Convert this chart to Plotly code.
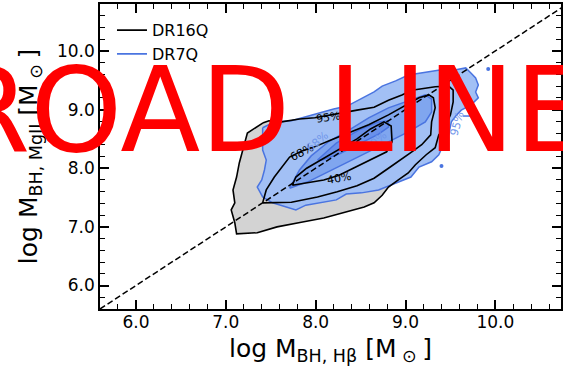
import plotly.graph_objects as go

# ---- contour outlines (log M_BH, Hbeta ; log M_BH, MgII) ----
dr16_95_x = [7.41, 7.48, 7.62, 7.82, 7.99, 8.15, 8.28, 8.46, 8.65, 8.81, 8.96, 9.07, 9.33, 9.48, 9.53, 9.53,
             9.50, 9.44, 9.37, 9.33, 9.23, 9.11, 9.03, 8.92, 8.81, 8.74, 8.65, 8.54, 8.31, 8.09, 7.84, 7.57,
             7.35, 7.12, 7.10, 7.06, 7.10, 7.08, 7.12, 7.15, 7.18, 7.24, 7.41]
dr16_95_y = [8.77, 8.81, 8.79, 8.84, 8.86, 8.91, 8.94, 8.99, 9.04, 9.16, 9.25, 9.33, 9.39, 9.40, 9.33, 9.13,
             8.91, 8.70, 8.57, 8.35, 8.23, 8.06, 7.92, 7.80, 7.68, 7.54, 7.41, 7.34, 7.24, 7.15, 7.08, 7.00,
             6.90, 6.88, 7.07, 7.29, 7.41, 7.63, 7.85, 8.09, 8.26, 8.60, 8.77]

dr16_68_x = [7.41, 7.45, 7.54, 7.62, 7.71, 7.84, 7.98, 8.17, 8.39, 8.59, 8.81, 9.00, 9.15, 9.26, 9.31, 9.33,
             9.29, 9.28, 9.18, 9.07, 8.92, 8.81, 8.65, 8.46, 8.24, 8.02, 7.73, 7.54, 7.41]
dr16_68_y = [7.41, 7.63, 7.85, 8.02, 8.19, 8.29, 8.36, 8.48, 8.62, 8.74, 8.91, 9.08, 9.20, 9.25, 9.20, 9.03,
             8.79, 8.57, 8.40, 8.28, 8.11, 8.00, 7.83, 7.70, 7.60, 7.51, 7.42, 7.41, 7.41]

dr16_40_x = [7.74, 7.78, 7.90, 8.09, 8.28, 8.46, 8.61, 8.76, 8.84, 8.85, 8.79, 8.67, 8.48, 8.26, 8.09, 7.90, 7.74]
dr16_40_y = [7.71, 7.85, 8.00, 8.17, 8.33, 8.50, 8.67, 8.79, 8.72, 8.45, 8.28, 8.19, 8.04, 7.88, 7.80, 7.75, 7.71]

dr7_95_x = [7.41, 7.54, 7.73, 7.87, 8.02, 8.20, 8.35, 8.46, 8.57, 8.65, 8.74, 8.89, 9.03, 9.15, 9.26, 9.40,
            9.56, 9.67, 9.73, 9.78, 9.81, 9.78, 9.81, 9.73, 9.62, 9.57, 9.51, 9.48, 9.42, 9.37, 9.29, 9.15,
            9.06, 8.89, 8.70, 8.51, 8.34, 8.23, 8.04, 7.89, 7.78, 7.67, 7.52, 7.41, 7.35, 7.40, 7.43, 7.45,
            7.41, 7.41, 7.41]
dr7_95_y = [8.69, 8.79, 8.81, 8.87, 8.94, 9.01, 9.06, 9.15, 9.23, 9.30, 9.40, 9.49, 9.59, 9.62, 9.64, 9.68,
            9.68, 9.71, 9.62, 9.54, 9.42, 9.30, 9.20, 9.08, 8.99, 8.91, 8.79, 8.57, 8.40, 8.23, 8.11, 8.02,
            7.85, 7.75, 7.63, 7.58, 7.56, 7.46, 7.41, 7.37, 7.29, 7.34, 7.41, 7.51, 7.68, 7.80, 7.97, 8.14,
            8.31, 8.48, 8.69]

dr7_68_x = [7.71, 7.82, 7.95, 8.15, 8.37, 8.59, 8.81, 9.03, 9.22, 9.29, 9.29, 9.22, 9.03, 8.81, 8.59, 8.37,
            8.15, 7.93, 7.71]
dr7_68_y = [7.66, 7.97, 8.21, 8.46, 8.65, 8.86, 9.03, 9.15, 9.25, 9.18, 8.96, 8.79, 8.62, 8.45, 8.28, 8.11,
            7.94, 7.78, 7.66]

dr7_40_x = [8.02, 8.23, 8.48, 8.70, 8.81, 8.81, 8.70, 8.48, 8.26, 8.07, 8.02]
dr7_40_y = [8.14, 8.43, 8.65, 8.79, 8.81, 8.70, 8.58, 8.41, 8.24, 8.14, 8.14]

# isolated DR7Q points outside the outer contour
dr7_out_x = [9.92, 9.40]
dr7_out_y = [9.69, 8.04]
dr7_tiny_x = [9.64, 9.73]
dr7_tiny_y = [8.89, 8.89]

# contour level labels: (x, y, text, angle)
black_labels = [(8.14, 8.87, "95%", -8), (7.85, 8.26, "68%", -28), (8.26, 7.82, "40%", -10)]
blue_labels = [(8.02, 8.46, "68%", -40), (8.67, 8.45, "40%", -40), (9.57, 8.75, "95%", -75)]

one_to_one = [5.6, 10.8]

GRAY = "#d3d3d3"
BLUE_LINE = "#4a74e0"
BLUE_95 = "#a2c0f5"
BLUE_68 = "#80a6ef"
BLUE_40 = "#6990ea"

fig = go.Figure()

fig.add_trace(go.Scatter(x=dr16_95_x, y=dr16_95_y, mode="lines", fill="toself", fillcolor=GRAY,
                         line=dict(width=0, color=GRAY), showlegend=False, hoverinfo="skip"))
for xs, ys, fc in [(dr7_95_x, dr7_95_y, BLUE_95), (dr7_68_x, dr7_68_y, BLUE_68), (dr7_40_x, dr7_40_y, BLUE_40)]:
    fig.add_trace(go.Scatter(x=xs, y=ys, mode="lines", fill="toself", fillcolor=fc,
                             line=dict(width=1.5, color=BLUE_LINE), showlegend=False, hoverinfo="skip"))
fig.add_trace(go.Scatter(x=dr7_tiny_x, y=dr7_tiny_y, mode="lines",
                         line=dict(width=1.5, color=BLUE_LINE), showlegend=False))
fig.add_trace(go.Scatter(x=dr7_out_x, y=dr7_out_y, mode="markers",
                         marker=dict(size=4, color=BLUE_LINE), showlegend=False))
for xs, ys in [(dr16_95_x, dr16_95_y), (dr16_68_x, dr16_68_y), (dr16_40_x, dr16_40_y)]:
    fig.add_trace(go.Scatter(x=xs, y=ys, mode="lines", line=dict(width=1.6, color="black"),
                             showlegend=False, hoverinfo="skip"))

fig.add_trace(go.Scatter(x=one_to_one, y=one_to_one, mode="lines",
                         line=dict(width=1.5, color="black", dash="6px,3px"), showlegend=False))

# legend entries
fig.add_trace(go.Scatter(x=[None], y=[None], mode="lines", name="DR16Q",
                         line=dict(color="black", width=1.8)))
fig.add_trace(go.Scatter(x=[None], y=[None], mode="lines", name="DR7Q",
                         line=dict(color=BLUE_LINE, width=1.8)))

annotations = []
for x, y, t, a in black_labels:
    annotations.append(dict(x=x, y=y, xref="x", yref="y", text=t, textangle=a, showarrow=False,
                            font=dict(family="DejaVu Sans", size=11, color="black")))
for x, y, t, a in blue_labels:
    annotations.append(dict(x=x, y=y, xref="x", yref="y", text=t, textangle=a, showarrow=False,
                            font=dict(family="DejaVu Sans", size=11, color="#6f95ea")))
annotations.append(dict(x=0.3672, y=0.651, xref="paper", yref="paper", text="ROAD LINE",
                        showarrow=False, xanchor="center", yanchor="middle",
                        font=dict(family="DejaVu Sans", size=117, color="#ff0000")))

axis_common = dict(
    showline=True, linecolor="black", linewidth=1.5, mirror="allticks",
    ticks="inside", ticklen=9, tickwidth=1.5, tickcolor="black",
    dtick=1, tickformat=".1f", showgrid=False, zeroline=False,
    tickfont=dict(family="DejaVu Sans", size=17, color="black"),
    minor=dict(ticks="inside", ticklen=5, tickwidth=1.2, tickcolor="black", dtick=0.2, showgrid=False),
)

fig.update_layout(
    width=563, height=369,
    margin=dict(l=100, r=0, t=4, b=60),
    paper_bgcolor="white", plot_bgcolor="white",
    font=dict(family="DejaVu Sans", color="black"),
    xaxis=dict(range=[5.6, 10.73], tick0=6, ticklabelstandoff=-3,
               title=dict(text="log M<sub>BH, Hβ</sub> [M<sub> ⊙ </sub>]", standoff=8,
                          font=dict(family="DejaVu Sans", size=25)), **axis_common),
    yaxis=dict(range=[5.6, 10.8], tick0=6,
               title=dict(text="log M<sub>BH, MgII</sub> [M<sub> ⊙ </sub>]", standoff=12,
                          font=dict(family="DejaVu Sans", size=25)), **axis_common),
    legend=dict(x=0.026, y=0.97, xanchor="left", yanchor="top", bgcolor="rgba(0,0,0,0)",
                font=dict(family="DejaVu Sans", size=16, color="black"), tracegroupgap=0,
                itemwidth=30),
    annotations=annotations,
    showlegend=True,
)

fig.write_html("out.html")
